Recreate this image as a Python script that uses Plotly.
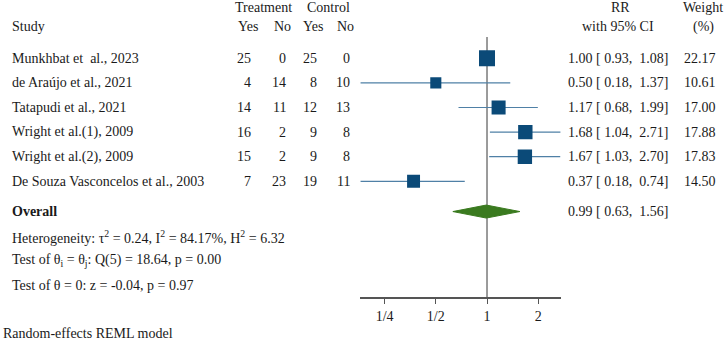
import math
import plotly.graph_objects as go

# ---------------- data ----------------
studies = ["Munkhbat et  al., 2023", "de Araújo et al., 2021", "Tatapudi et al., 2021",
           "Wright et al.(1), 2009", "Wright et al.(2), 2009", "De Souza Vasconcelos et al., 2003"]
treat_yes = [25, 4, 14, 16, 15, 7]
treat_no = [0, 14, 11, 2, 2, 23]
ctrl_yes = [25, 8, 12, 9, 9, 19]
ctrl_no = [0, 10, 13, 8, 8, 11]
rr = [1.00, 0.50, 1.17, 1.68, 1.67, 0.37]
ci_lo = [0.93, 0.18, 0.68, 1.04, 1.03, 0.18]
ci_hi = [1.08, 1.37, 1.99, 2.71, 2.70, 0.74]
weights = [22.17, 10.61, 17.00, 17.88, 17.83, 14.50]
overall = [0.99, 0.63, 1.56]  # estimate, lo, hi
tick_vals = [0.25, 0.5, 1, 2]
tick_text = ["1/4", "1/2", "1", "2"]
stats_lines = [
    "Heterogeneity: τ<sup>2</sup> = 0.24, I<sup>2</sup> = 84.17%, H<sup>2</sup> = 6.32",
    "Test of θ<sub>i</sub> = θ<sub>j</sub>: Q(5) = 18.64, p = 0.00",
    "Test of θ = 0: z = -0.04, p = 0.97",
]
footnote = "Random-effects REML model"

# ---------------- layout helpers ----------------
W, H = 726, 343
ROW0, ROWH = 58.3, 24.6          # pixel y of first study row, row spacing
AXIS_PX = 297                     # pixel y of the x axis line
FONT = "Liberation Serif, Times New Roman, serif"
FS = 14
SQ_COL = "#0b4a78"
CI_COL = "#4f80a6"
DIA_COL = "#3a7a1f"

n = len(studies)
rows = list(range(n))
overall_row = 6.23


def py(row):
    return ROW0 + ROWH * row


def paper_y(px):
    return 1 - px / H


fig = go.Figure()

# CI lines
xs, ys = [], []
for r, lo, hi in zip(rows, ci_lo, ci_hi):
    xs += [lo, hi, None]
    ys += [r, r, None]
fig.add_trace(go.Scatter(x=xs, y=ys, mode="lines", line=dict(color=CI_COL, width=1.2),
                         hoverinfo="skip", showlegend=False))

# squares
fig.add_trace(go.Scatter(x=rr, y=rows, mode="markers",
                         marker=dict(symbol="square", color=SQ_COL, opacity=1,
                                     size=[3.4 * math.sqrt(w) for w in weights],
                                     line=dict(width=0)),
                         showlegend=False))

# diamond
hd = 6.5 / ROWH
est, olo, ohi = overall
fig.add_trace(go.Scatter(x=[olo, est, ohi, est, olo],
                         y=[overall_row, overall_row - hd, overall_row, overall_row + hd, overall_row],
                         mode="lines", fill="toself", fillcolor=DIA_COL,
                         line=dict(color=DIA_COL, width=1), showlegend=False))

# reference line at 1
top_row = (37 - ROW0) / ROWH
bot_row = (AXIS_PX - ROW0) / ROWH
fig.add_shape(type="line", xref="x", yref="y", x0=1, x1=1, y0=top_row, y1=bot_row,
              line=dict(color="#7a7a7a", width=1.5), layer="below")

xmin, xmax = min(ci_lo), max(ci_hi)
ppx = 51.2  # pixels per doubling
x_left = 487 + ppx * math.log2(xmin)
x_right = 487 + ppx * math.log2(xmax)

fig.update_xaxes(type="log", range=[math.log10(xmin), math.log10(xmax)],
                 domain=[x_left / W, x_right / W], tickvals=tick_vals, ticktext=tick_text,
                 ticks="outside", ticklen=5, tickcolor="#555", tickwidth=1,
                 showline=True, linecolor="#555", linewidth=1.5,
                 showgrid=False, zeroline=False,
                 tickfont=dict(family=FONT, size=14, color="#1a1a1a"), fixedrange=True)
fig.update_yaxes(range=[bot_row, -ROW0 / ROWH], domain=[1 - AXIS_PX / H, 1],
                 visible=False, showgrid=False, zeroline=False, fixedrange=True)

ann = []


def txt(x, y, s, anchor="left"):
    ann.append(dict(x=x / W, y=paper_y(y), xref="paper", yref="paper", text=s,
                    showarrow=False, xanchor=anchor, yanchor="middle",
                    font=dict(family=FONT, size=FS, color="#1a1a1a")))


def ci_text(e, lo, hi):
    return f"{e:.2f} [{lo:5.2f}, {hi:5.2f}]".replace(" ", "&nbsp;").replace("&nbsp;[", " [")


# headers
txt(263, 7, "Treatment", "center")
txt(328, 7, "Control", "center")
txt(10, 27, "Study")
for xc, s in [(248, "Yes"), (282, "No"), (313, "Yes"), (345, "No")]:
    txt(xc, 27, s, "center")
txt(620, 7, "RR", "center")
txt(618, 27, "with 95% CI", "center")
txt(703, 7, "Weight", "center")
txt(703, 27, "(%)", "center")

# study rows
for i in rows:
    yy = py(i)
    txt(10, yy, studies[i])
    txt(253, yy, str(treat_yes[i]), "right")
    txt(288, yy, str(treat_no[i]), "right")
    txt(319, yy, str(ctrl_yes[i]), "right")
    txt(352, yy, str(ctrl_no[i]), "right")
    txt(566, yy, ci_text(rr[i], ci_lo[i], ci_hi[i]))
    txt(718, yy, f"{weights[i]:.2f}", "right")

oy = py(overall_row)
txt(10, oy, "<b>Overall</b>")
txt(566, oy, ci_text(est, olo, ohi))
for s, yy in zip(stats_lines, [236.7, 260, 285]):
    txt(10, yy, s)
txt(1, 333.5, footnote)

fig.update_layout(width=W, height=H, margin=dict(l=0, r=0, t=0, b=0),
                  paper_bgcolor="white", plot_bgcolor="white",
                  annotations=ann, showlegend=False)

fig.write_html("out.html", config={"displayModeBar": False},
               post_script="document.body.style.margin='0';document.body.style.overflow='hidden';")
